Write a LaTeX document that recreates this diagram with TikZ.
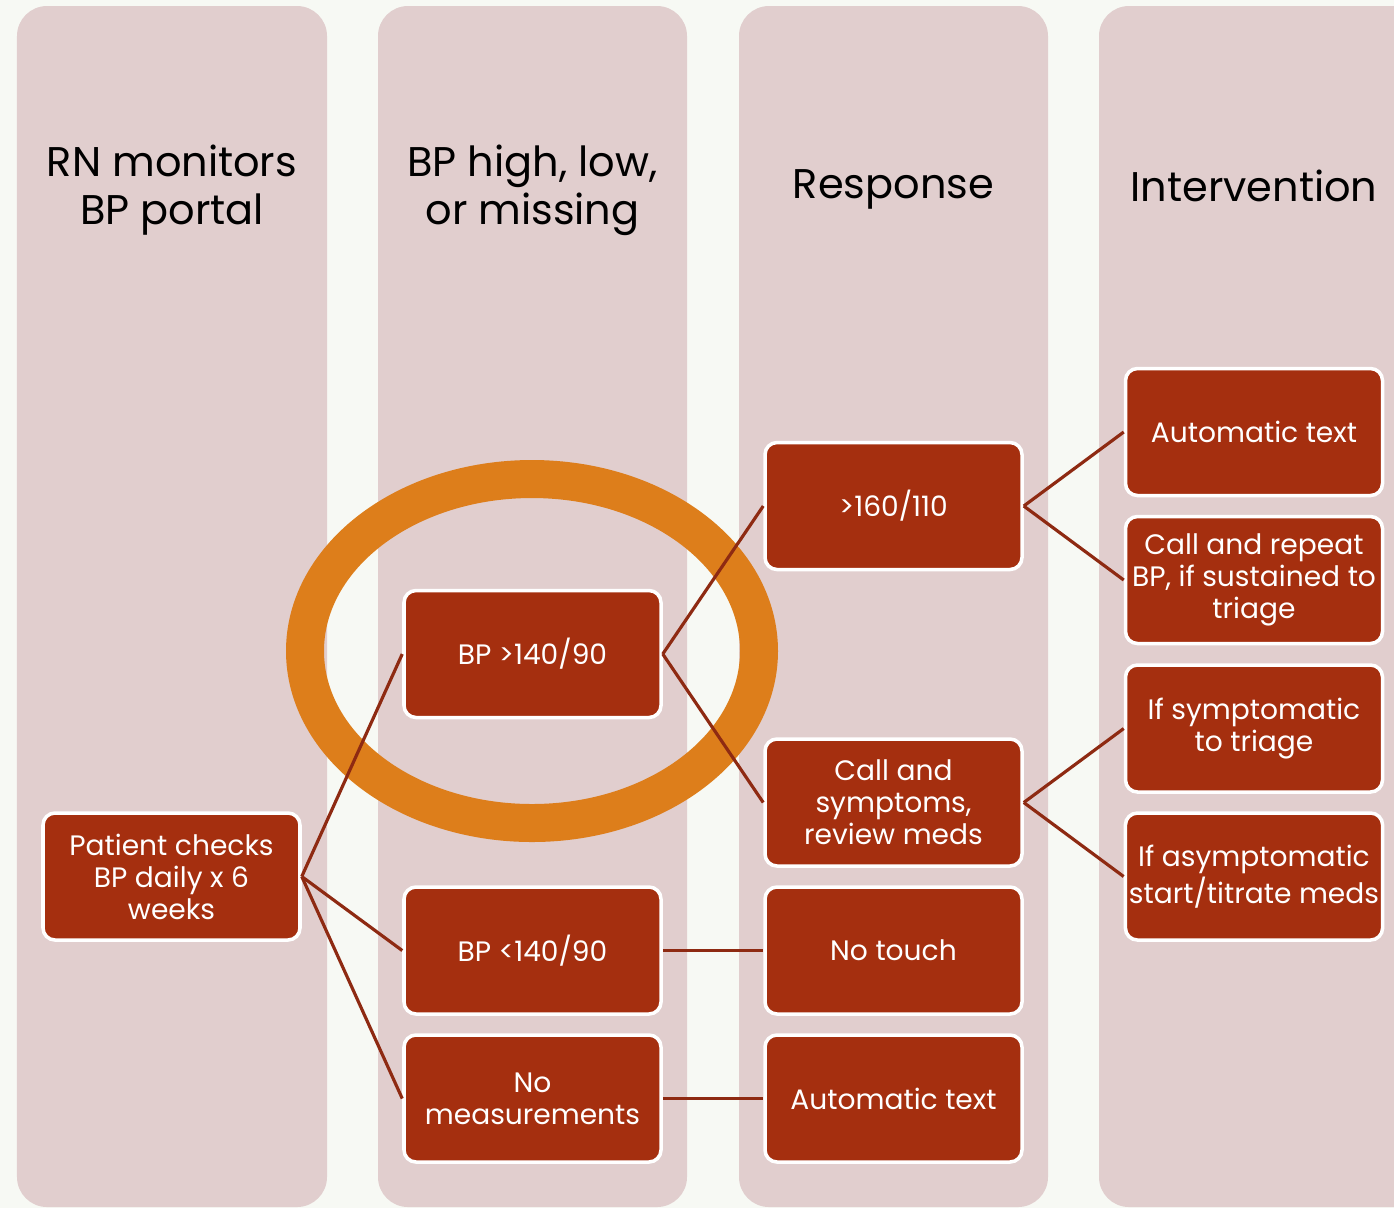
\documentclass[tikz,border=0pt]{standalone}
\usepackage{fontspec}
\setmainfont{Poppins}
\usepackage{tikz}
\usetikzlibrary{calc,positioning,shapes}

\definecolor{pagebg}{HTML}{F7F9F4}
\definecolor{lanefill}{HTML}{E1CECE}
\definecolor{boxred}{HTML}{A52F0F}
\definecolor{linkred}{HTML}{8E2A12}
\definecolor{ringorange}{HTML}{DD7E1B}

\tikzset{
  lane/.style={fill=lanefill, draw=none, rounded corners=0.3cm},
  head/.style={align=center, font=\fontsize{11.8}{13.7}\selectfont, text=black},
  stepbox/.style={rectangle, rounded corners=0.12cm, fill=boxred, draw=white,
    line width=1pt, text=white, align=center, minimum width=2.57cm,
    minimum height=1.27cm, inner sep=1pt, font=\fontsize{8}{9.1}\selectfont},
  link/.style={draw=linkred, line width=0.9pt},
}

\begin{document}
\begin{tikzpicture}
    \clip (0,0) rectangle (13.94,-12.08);
    \fill[pagebg] (0,0) rectangle (13.94,-12.08);
%   four lanes
    \fill[lane] (0.17,-0.06) rectangle (3.27,-12.07);
    \fill[lane] (3.78,-0.06) rectangle (6.87,-12.07);
    \fill[lane] (7.39,-0.06) rectangle (10.48,-12.07);
    \fill[lane] (10.99,-0.06) rectangle (14.40,-12.07);

    \node[head] at (1.72,-1.90) (l1) {RN monitors\\BP portal};
    \node[head] at (5.325,-1.90) (l2) {BP high, low,\\or missing};
    \node[head] at (8.935,-1.89) (l3) {Response};
    \node[head] at (12.54,-1.86) (l4) {Intervention};

%   highlight round the first reading
    \draw[ringorange, line width=0.38cm] (5.32,-6.51) ellipse [x radius=2.27, y radius=1.72];

    \node[stepbox] at (1.715,-8.765) (p1) {Patient checks\\BP daily x 6\\weeks};
    \node[stepbox] at (5.325,-6.54) (h1) {BP >140/90};
    \node[stepbox] at (5.325,-9.505) (h2) {BP <140/90};
    \node[stepbox] at (5.325,-10.985) (h3) {No\\measurements};
    \node[stepbox] at (8.935,-5.06) (r1) {>160/110};
    \node[stepbox] at (8.935,-8.025) (r2) {Call and\\symptoms,\\review meds};
    \node[stepbox] at (8.935,-9.505) (r3) {No touch};
    \node[stepbox] at (8.935,-10.985) (r4) {Automatic text};
    \node[stepbox] at (12.54,-4.32) (i1) {Automatic text};
    \node[stepbox] at (12.54,-5.80) (i2) {Call and repeat\\BP, if sustained to\\triage};
    \node[stepbox] at (12.54,-7.285) (i3) {If symptomatic\\to triage};
    \node[stepbox] at (12.54,-8.765) (i4) {If asymptomatic\\start/titrate meds};

%   connectors
    \draw[link] (p1.east) -- (h1.west);
    \draw[link] (p1.east) -- (h2.west);
    \draw[link] (p1.east) -- (h3.west);
    \draw[link] (h1.east) -- (r1.west);
    \draw[link] (h1.east) -- (r2.west);
    \draw[link] (h2.east) -- (r3.west);
    \draw[link] (h3.east) -- (r4.west);
    \draw[link] (r1.east) -- (i1.west);
    \draw[link] (r1.east) -- (i2.west);
    \draw[link] (r2.east) -- (i3.west);
    \draw[link] (r2.east) -- (i4.west);
  \end{tikzpicture}
\end{document}
